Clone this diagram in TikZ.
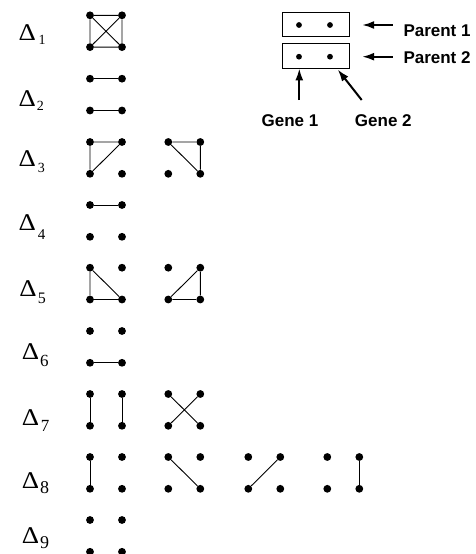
\documentclass[tikz,border=0pt]{standalone}
\usepackage{fontspec}
\setmainfont{Liberation Serif}
\newfontfamily\hv{Liberation Sans}
\usetikzlibrary{arrows.meta}
\newcommand\fourdots[3]{%
  \node[dot] (#1tl) at (#2,#3) {};
  \node[dot] (#1tr) at (#2+32,#3) {};
  \node[dot] (#1bl) at (#2,#3+31.8) {};
  \node[dot] (#1br) at (#2+32,#3+31.8) {};}
\newcommand\dlabel[7]{% name, dx, dbase, digit, sx, sbase, size
  \node[dlt] (d#1) at (#2,#3) {\scalebox{1.12}[1]{Δ}};
  \node[sub,font=\fontsize{#7}{#7}\selectfont] (s#1) at (#5,#6) {#4};}
\begin{document}
\begin{tikzpicture}[x=1pt,y=-1pt,
  dot/.style={circle,fill,inner sep=0pt,minimum size=7.8pt},
  sdot/.style={circle,fill,inner sep=0pt,minimum size=5.8pt},
  edge/.style={line width=0.9pt},
  arr/.style={line width=2pt,-{Latex[length=12pt,width=8pt]}},
  lbl/.style={font=\hv\bfseries\fontsize{17}{20}\selectfont, inner sep=0pt, anchor=base},
  dlt/.style={anchor=base west, inner sep=0pt, font=\fontsize{24}{28}\selectfont},
  sub/.style={anchor=base west, inner sep=0pt},
  box/.style={draw, line width=0.9pt, minimum width=66.6pt, minimum height=24.4pt, inner sep=0pt}]
\useasboundingbox (0,0) rectangle (476,554);

% labels
\dlabel{1}{18.3}{40}{1}{38.3}{44}{14}
\dlabel{2}{18.3}{106}{2}{36.7}{110}{14}
\dlabel{3}{18.3}{166}{3}{37.7}{172.7}{14}
\dlabel{4}{18.3}{230}{4}{37.7}{239}{15}
\dlabel{5}{19.3}{296.7}{5}{37.7}{303}{16}
\dlabel{6}{21.7}{359.3}{6}{40}{366}{17}
\dlabel{7}{21.7}{425}{7}{40.7}{431.7}{17}
\dlabel{8}{21.7}{488.3}{8}{40}{493.3}{18}
\dlabel{9}{21.7}{543.3}{9}{40}{548}{18}

% graphs
\fourdots{ga}{90}{15.3}
\draw[edge] (gatl)--(gatr) (gatr)--(gabr) (gabr)--(gabl) (gabl)--(gatl) (gatl)--(gabr) (gatr)--(gabl);
\fourdots{gb}{90}{78.7}
\draw[edge] (gbtl)--(gbtr) (gbbl)--(gbbr);
\fourdots{gca}{90}{142}
\draw[edge] (gcatl)--(gcatr) (gcatl)--(gcabl) (gcatr)--(gcabl);
\fourdots{gcb}{168.3}{142}
\draw[edge] (gcbtl)--(gcbtr) (gcbtr)--(gcbbr) (gcbtl)--(gcbbr);
\fourdots{gd}{90}{205}
\draw[edge] (gdtl)--(gdtr);
\fourdots{gea}{90}{267.7}
\draw[edge] (geatl)--(geabl) (geabl)--(geabr) (geatl)--(geabr);
\fourdots{geb}{168.3}{267.7}
\draw[edge] (gebtr)--(gebbr) (gebbl)--(gebbr) (gebbl)--(gebtr);
\fourdots{gf}{90}{331}
\draw[edge] (gfbl)--(gfbr);
\fourdots{gga}{90}{394}
\draw[edge] (ggatl)--(ggabl) (ggatr)--(ggabr);
\fourdots{ggb}{168.3}{394}
\draw[edge] (ggbtl)--(ggbbr) (ggbtr)--(ggbbl);
\fourdots{gha}{90}{457}
\draw[edge] (ghatl)--(ghabl);
\fourdots{ghb}{168.3}{457}
\draw[edge] (ghbtl)--(ghbbr);
\fourdots{ghc}{248.3}{457}
\draw[edge] (ghctr)--(ghcbl);
\fourdots{ghd}{327.3}{457}
\draw[edge] (ghdtr)--(ghdbr);
\fourdots{gi}{90}{520}

% legend
\node[box] (box1) at (316,24.5) {};
\node[box] (box2) at (316,55.8) {};
\node[sdot] (b1l) at (299,25) {};
\node[sdot] (b1r) at (330,25) {};
\node[sdot] (b2l) at (299,56.7) {};
\node[sdot] (b2r) at (330,56.7) {};
\node[lbl, anchor=base west] (p1) at (403.3,36) {Parent 1};
\node[lbl, anchor=base west] (p2) at (403.3,63.3) {Parent 2};
\node[lbl] (gn1) at (290,126.7) {Gene 1};
\node[lbl] (gn2) at (383.3,126.7) {Gene 2};
\coordinate (p1tail) at (392.7,25);
\coordinate (p2tail) at (392.7,56.7);
\coordinate (g1tail) at (299.3,100);
\coordinate (g2tail) at (361.7,100);
\coordinate (g2tip) at (337.7,69.5);
\draw[arr, shorten >=12.4pt] (p1tail) -- (p1tail -| box1.east);
\draw[arr, shorten >=12.4pt] (p2tail) -- (p2tail -| box2.east);
\draw[arr] (g1tail) -- (g1tail |- box2.south);
\draw[arr] (g2tail) -- (g2tip);
\end{tikzpicture}
\end{document}
